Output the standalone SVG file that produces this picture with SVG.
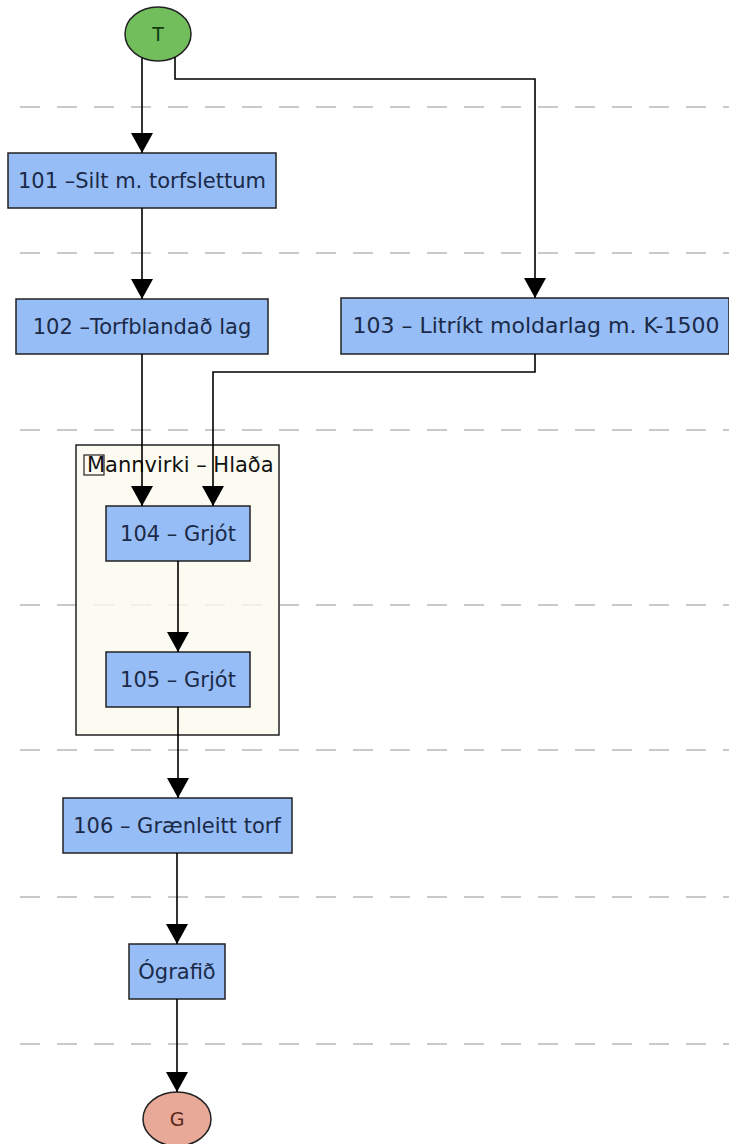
<svg xmlns="http://www.w3.org/2000/svg" width="729" height="1144" viewBox="0 0 729 1144">
<defs>
<marker id="arr" viewBox="0 0 20 22" refX="20" refY="11" markerWidth="20" markerHeight="22" markerUnits="userSpaceOnUse" orient="auto">
<path d="M0,0 L20,11 L0,22 Z" fill="#000"/>
</marker>
<style>
.lane{stroke:#c9c9c9;stroke-width:2;stroke-dasharray:20 17;fill:none}
.node rect{fill:#97bdf6;stroke:#222;stroke-width:1.5}
.node text{font-family:"DejaVu Sans",sans-serif;font-size:21px;fill:#1a2a48;text-anchor:middle}
.conn path{fill:none;stroke:#000;stroke-width:1.6;marker-end:url(#arr)}
</style>
</defs>
<rect width="729" height="1144" fill="#fff"/>
<g id="lanes">
<line class="lane" x1="20" y1="107" x2="729" y2="107"/>
<line class="lane" x1="20" y1="253" x2="729" y2="253"/>
<line class="lane" x1="20" y1="430" x2="729" y2="430"/>
<line class="lane" x1="20" y1="605" x2="729" y2="605"/>
<line class="lane" x1="20" y1="750" x2="729" y2="750"/>
<line class="lane" x1="20" y1="897" x2="729" y2="897"/>
<line class="lane" x1="20" y1="1044" x2="729" y2="1044"/>
</g>
<g id="group-hlada">
<rect x="76" y="445" width="203" height="290" fill="#fbfaef" fill-opacity="0.8" stroke="#222" stroke-width="1.5"/>
<rect x="84" y="455" width="20" height="20" fill="none" stroke="#222" stroke-width="1.2"/>
<text x="87" y="472" font-family="DejaVu Sans,sans-serif" font-size="21" fill="#111">Mannvirki – Hlaða</text>
</g>
<g id="T">
<ellipse cx="158" cy="34" rx="33" ry="27" fill="#72be5c" stroke="#222" stroke-width="1.5"/>
<text x="158" y="41" font-family="DejaVu Sans,sans-serif" font-size="19" fill="#0f3d10" text-anchor="middle">T</text>
</g>
<g id="n101" class="node">
<rect x="8" y="153" width="268" height="55"/>
<text x="142" y="188">101 –Silt m. torfslettum</text>
</g>
<g id="n102" class="node">
<rect x="16" y="299" width="252" height="55"/>
<text x="142" y="334">102 –Torfblandað lag</text>
</g>
<g id="n103" class="node">
<rect x="341" y="298" width="388" height="56"/>
<text x="536" y="333" style="font-size:22px">103 – Litríkt moldarlag m. K-1500</text>
</g>
<g id="n104" class="node">
<rect x="106" y="506" width="144" height="55"/>
<text x="178" y="541">104 – Grjót</text>
</g>
<g id="n105" class="node">
<rect x="106" y="652" width="144" height="55"/>
<text x="178" y="687">105 – Grjót</text>
</g>
<g id="n106" class="node">
<rect x="63" y="798" width="229" height="55"/>
<text x="177" y="833">106 – Grænleitt torf</text>
</g>
<g id="ografid" class="node">
<rect x="129" y="944" width="96" height="55"/>
<text x="177" y="979">Ógrafið</text>
</g>
<g id="G">
<ellipse cx="177" cy="1119" rx="34" ry="27" fill="#e8a998" stroke="#222" stroke-width="1.5"/>
<text x="177" y="1126" font-family="DejaVu Sans,sans-serif" font-size="19" fill="#5a2a1c" text-anchor="middle">G</text>
</g>
<g id="connectors" class="conn">
<path d="M142,58 L142,153"/>
<path d="M175,57 L175,79 L535,79 L535,298"/>
<path d="M142,208 L142,299"/>
<path d="M142,354 L142,506"/>
<path d="M535,354 L535,372 L213,372 L213,506"/>
<path d="M178,561 L178,652"/>
<path d="M178,707 L178,798"/>
<path d="M177,853 L177,944"/>
<path d="M177,999 L177,1092"/>
</g>
</svg>
